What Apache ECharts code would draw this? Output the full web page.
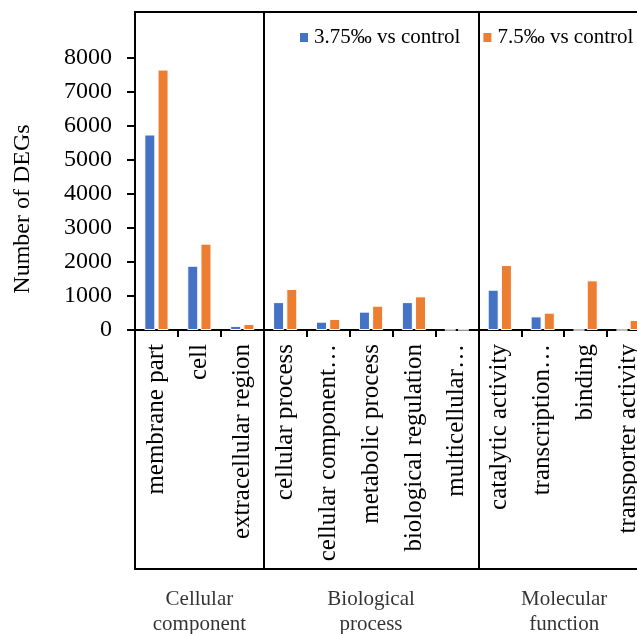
<!DOCTYPE html>
<html>
<head>
<meta charset="utf-8">
<script src="https://cdn.jsdelivr.net/npm/echarts@6.0.0/dist/echarts.min.js"></script>
<style>
  html, body { margin: 0; padding: 0; background: #fff; }
  #chart { width: 637px; height: 634px; }
</style>
</head>
<body>
<div id="chart"></div>
<script>
const SERIF = '"Liberation Serif", "Times New Roman", serif';

// GO terms along the x axis, grouped by ontology
const categories = [
  'membrane part', 'cell', 'extracellular region',
  'cellular process', 'cellular component…', 'metabolic process', 'biological regulation', 'multicellular…',
  'catalytic activity', 'transcription…', 'binding', 'transporter activity'
];
const groupNames = ['Cellular\ncomponent', 'Biological\nprocess', 'Molecular\nfunction'];
const groupSizes = [3, 5, 4];

const seriesNames = ['3.75‰ vs control', '7.5‰ vs control'];
const lowDose = [5750, 1890, 120, 820, 245, 540, 820, 5, 1185, 400, 0, 0];
const highDose = [7660, 2540, 175, 1205, 325, 715, 990, 8, 1910, 510, 1460, 295];

const yTicks = { min: 0, max: 8000, interval: 1000 };

// group boundaries and centres, in category units
const bounds = [];
const centres = [];
let acc = 0;
groupSizes.forEach((n, i) => {
  centres.push([acc + n / 2, 0, groupNames[i]]);
  acc += n;
  if (i < groupSizes.length - 1) bounds.push(acc);
});

const chart = echarts.init(document.getElementById('chart'));

chart.setOption({
  animation: false,
  legend: {
    data: seriesNames,
    left: 298,
    top: 27,
    width: 420,
    padding: 0,
    icon: 'rect',
    itemWidth: 10,
    itemHeight: 11,
    itemGap: 21,
    textStyle: { fontFamily: SERIF, fontSize: 21, color: '#000' }
  },
  grid: [
    // bars (the plot runs past the right edge of the picture)
    { left: 135, top: 58, width: 515, height: 272, outerBoundsMode: 'none' },
    // outer box that holds the category labels
    {
      left: 135, top: 12, width: 515, bottom: 65, outerBoundsMode: 'none',
      show: true, borderColor: '#000', borderWidth: 2, backgroundColor: 'transparent'
    }
  ],
  xAxis: [
    {
      type: 'category',
      gridIndex: 0,
      data: categories,
      axisLine: { lineStyle: { color: '#000', width: 2 } },
      axisTick: { show: true, length: 7, lineStyle: { color: '#000', width: 2 } },
      axisLabel: {
        interval: 0,
        rotate: 90,
        margin: 14,
        color: '#000',
        fontFamily: SERIF,
        fontSize: 25
      }
    },
    { type: 'value', gridIndex: 1, min: 0, max: acc, show: false }
  ],
  yAxis: [
    {
      type: 'value',
      gridIndex: 0,
      min: yTicks.min,
      max: yTicks.max,
      interval: yTicks.interval,
      name: 'Number of DEGs',
      nameLocation: 'middle',
      nameGap: 100,
      nameTextStyle: { fontFamily: SERIF, fontSize: 24, color: '#000', padding: [0, 30, 0, 0] },
      axisLine: { show: true, lineStyle: { color: '#000', width: 2 } },
      axisTick: { show: true, length: 8, lineStyle: { color: '#000', width: 2 } },
      axisLabel: { margin: 23, color: '#000', fontFamily: SERIF, fontSize: 24, formatter: v => String(v) },
      splitLine: { show: false }
    },
    { type: 'value', gridIndex: 1, min: 0, max: 1, show: false }
  ],
  series: [
    {
      name: seriesNames[0],
      type: 'bar',
      data: lowDose,
      barWidth: 11,
      barGap: '20%',
      itemStyle: { color: '#4472C4', borderColor: '#fff', borderWidth: 1 }
    },
    {
      name: seriesNames[1],
      type: 'bar',
      data: highDose,
      barWidth: 11,
      barGap: '20%',
      itemStyle: { color: '#ED7D31', borderColor: '#fff', borderWidth: 1 }
    },
    {
      // group names below the box + vertical separators between groups
      type: 'scatter',
      xAxisIndex: 1,
      yAxisIndex: 1,
      silent: true,
      data: centres,
      symbolSize: 1,
      itemStyle: { color: 'rgba(0,0,0,0)' },
      label: {
        show: true,
        position: 'bottom',
        distance: 17,
        formatter: p => p.data[2],
        color: '#000',
        fontFamily: SERIF,
        fontSize: 21,
        lineHeight: 25,
        align: 'center'
      },
      markLine: {
        silent: true,
        symbol: ['none', 'none'],
        label: { show: false },
        lineStyle: { color: '#000', type: 'solid', width: 2 },
        data: bounds.map(b => ({ xAxis: b }))
      }
    }
  ]
});
</script>
</body>
</html>
